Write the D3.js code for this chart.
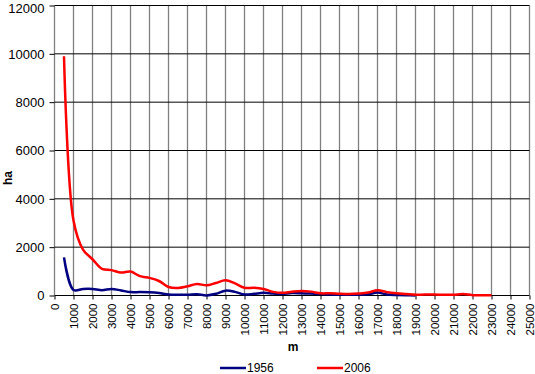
<!DOCTYPE html>
<html>
<head>
<meta charset="utf-8">
<script src="https://cdn.jsdelivr.net/npm/d3@7"></script>
<style>
  body { margin: 0; background: #fff; }
  svg { font-family: "Liberation Sans", Arial, sans-serif; }
</style>
</head>
<body>
<svg id="chart" width="535" height="374"></svg>
<script>
// distance from the edge (m)
const distance = [500, 1000, 1500, 2000, 2500, 3000, 3500, 4000, 4500, 5000,
  5500, 6000, 6500, 7000, 7500, 8000, 8500, 9000, 9500, 10000,
  10500, 11000, 11500, 12000, 12500, 13000, 13500, 14000, 14500, 15000,
  15500, 16000, 16500, 17000, 17500, 18000, 18500, 19000, 19500, 20000,
  20500, 21000, 21500, 22000, 22500, 23000]

const ha1956 = [1580, 230, 270, 270, 220, 270, 210, 140, 140, 130,
  100, 40, 30, 30, 50, 5, 70, 200, 150, 40,
  70, 110, 80, 60, 100, 90, 80, 60, 40, 30,
  30, 30, 50, 120, 40, 20, 10, 5]

const ha2006 = [9900, 3100, 1900, 1500, 1100, 1050, 950, 990, 800, 730,
  600, 350, 310, 380, 480, 420, 520, 630, 500, 320,
  320, 270, 150, 110, 160, 190, 160, 90, 90, 70,
  60, 80, 120, 220, 140, 90, 60, 30, 40, 40,
  30, 30, 60, 15, 15, 10]

const xTicks = [0, 1000, 2000, 3000, 4000, 5000, 6000, 7000, 8000, 9000, 10000,
  11000, 12000, 13000, 14000, 15000, 16000, 17000, 18000, 19000, 20000,
  21000, 22000, 23000, 24000, 25000]
const yTicks = [0, 2000, 4000, 6000, 8000, 10000, 12000]

const series = [
  { name: '1956', values: ha1956, color: '#000080' },
  { name: '2006', values: ha2006, color: '#ff0000' }
]

const svg = d3.select('#chart')

const x = d3.scaleLinear().domain([0, 25000]).range([54.5, 529.5])
const y = d3.scaleLinear().domain([0, 12000]).range([295.5, 5.5])

// vertical grid (grey)
svg.append('g')
  .selectAll('line')
  .data(xTicks)
  .enter().append('line')
  .attr('x1', (d) => x(d))
  .attr('x2', (d) => x(d))
  .attr('y1', y(12000))
  .attr('y2', y(0))
  .attr('stroke', '#808080')
  .attr('stroke-width', 1.3)

// horizontal grid (black)
svg.append('g')
  .selectAll('line')
  .data(yTicks)
  .enter().append('line')
  .attr('x1', x(0))
  .attr('x2', x(25000))
  .attr('y1', (d) => y(d))
  .attr('y2', (d) => y(d))
  .attr('stroke', '#000')
  .attr('stroke-width', 1)

// y axis
const yAxis = svg.append('g')
  .attr('transform', `translate(${x(0)},0)`)
  .call(d3.axisLeft(y).tickValues(yTicks).tickSize(5).tickPadding(5).tickFormat(d3.format('d')))
yAxis.select('.domain').remove()
yAxis.selectAll('line').attr('stroke', '#000')
yAxis.selectAll('text')
  .attr('font-size', 13)
  .attr('fill', '#000')
  .style('font-family', '"Liberation Sans", Arial, sans-serif')
  .attr('dy', (d) => d === 12000 ? '0.5em' : '0.32em')

// x axis
const xAxis = svg.append('g')
  .attr('transform', `translate(0,${y(0)})`)
  .call(d3.axisBottom(x).tickValues(xTicks).tickSize(4).tickFormat(d3.format('d')))
xAxis.select('.domain').remove()
xAxis.selectAll('line').attr('stroke', '#000')
xAxis.selectAll('text')
  .attr('font-size', 11.5)
  .attr('fill', '#000')
  .style('font-family', '"Liberation Sans", Arial, sans-serif')
  .attr('transform', 'rotate(-90)')
  .attr('text-anchor', 'end')
  .attr('x', -8)
  .attr('y', 0)
  .attr('dy', '0.35em')

const line = d3.line()
  .x((d) => x(d[0]))
  .y((d) => y(d[1]))
  .curve(d3.curveCatmullRom.alpha(0.5))

svg.append('g')
  .selectAll('path')
  .data(series)
  .enter().append('path')
  .attr('d', (s) => line(s.values.map((v, i) => [distance[i], v])))
  .attr('fill', 'none')
  .attr('stroke', (s) => s.color)
  .attr('stroke-width', 2.5)
  .attr('stroke-linejoin', 'round')

// axis titles
svg.append('text')
  .attr('x', 293)
  .attr('y', 351)
  .attr('text-anchor', 'middle')
  .attr('font-size', 12)
  .attr('font-weight', 'bold')
  .text('m')

svg.append('text')
  .attr('transform', 'translate(12,178) rotate(-90)')
  .attr('text-anchor', 'middle')
  .attr('font-size', 12)
  .attr('font-weight', 'bold')
  .text('ha')

// legend
const legend = svg.append('g')
  .selectAll('g')
  .data(series)
  .enter().append('g')
  .attr('transform', (d, i) => `translate(${220 + i * 97},368)`)

legend.append('line')
  .attr('x1', 0)
  .attr('x2', 26)
  .attr('y1', 0)
  .attr('y2', 0)
  .attr('stroke', (d) => d.color)
  .attr('stroke-width', 2.5)

legend.append('text')
  .attr('x', 27)
  .attr('y', 4)
  .attr('font-size', 12)
  .text((d) => d.name)
</script>
</body>
</html>
